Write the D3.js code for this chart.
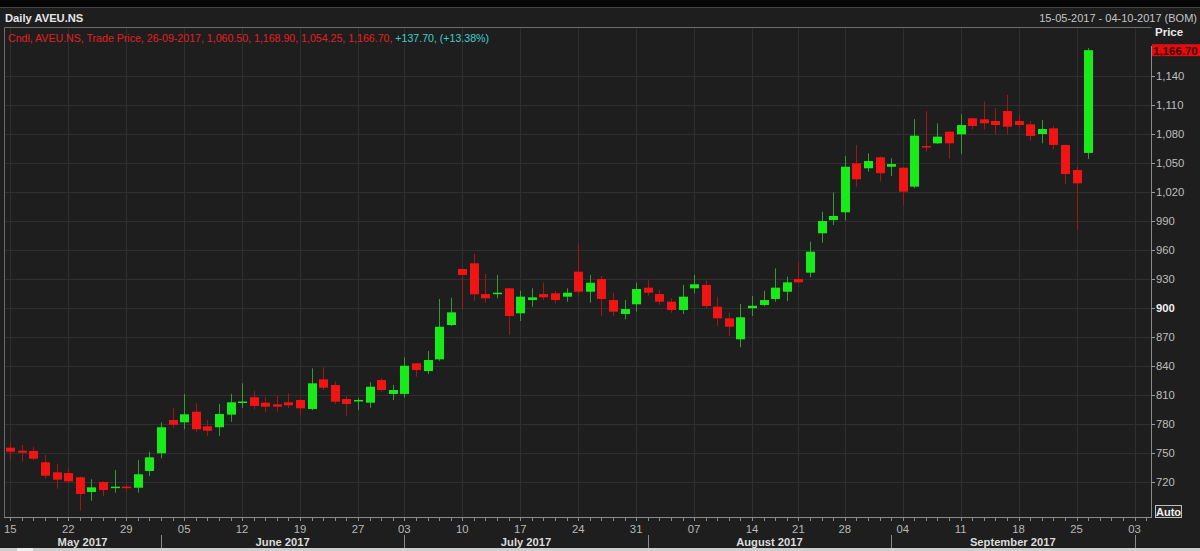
<!DOCTYPE html>
<html>
<head>
<meta charset="utf-8">
<script src="https://cdn.jsdelivr.net/npm/d3@7"></script>
<style>
  html, body { margin: 0; padding: 0; background: #1e1e1e; overflow: hidden; }
  svg { display: block; }
  text { font-family: "Liberation Sans", Arial, sans-serif; }
</style>
</head>
<body>
<svg id="chart" width="1200" height="551"></svg>
<script>
// ---- trading calendar (NSE, 15-05-2017 .. 04-10-2017) ----
const dates = [
  "2017-05-15","2017-05-16","2017-05-17","2017-05-18","2017-05-19",
  "2017-05-22","2017-05-23","2017-05-24","2017-05-25","2017-05-26",
  "2017-05-29","2017-05-30","2017-05-31","2017-06-01","2017-06-02",
  "2017-06-05","2017-06-06","2017-06-07","2017-06-08","2017-06-09",
  "2017-06-12","2017-06-13","2017-06-14","2017-06-15","2017-06-16",
  "2017-06-19","2017-06-20","2017-06-21","2017-06-22","2017-06-23",
  "2017-06-27","2017-06-28","2017-06-29","2017-06-30",
  "2017-07-03","2017-07-04","2017-07-05","2017-07-06","2017-07-07",
  "2017-07-10","2017-07-11","2017-07-12","2017-07-13","2017-07-14",
  "2017-07-17","2017-07-18","2017-07-19","2017-07-20","2017-07-21",
  "2017-07-24","2017-07-25","2017-07-26","2017-07-27","2017-07-28",
  "2017-07-31","2017-08-01","2017-08-02","2017-08-03","2017-08-04",
  "2017-08-07","2017-08-08","2017-08-09","2017-08-10","2017-08-11",
  "2017-08-14","2017-08-16","2017-08-17","2017-08-18",
  "2017-08-21","2017-08-22","2017-08-23","2017-08-24",
  "2017-08-28","2017-08-29","2017-08-30","2017-08-31","2017-09-01",
  "2017-09-04","2017-09-05","2017-09-06","2017-09-07","2017-09-08",
  "2017-09-11","2017-09-12","2017-09-13","2017-09-14","2017-09-15",
  "2017-09-18","2017-09-19","2017-09-20","2017-09-21","2017-09-22",
  "2017-09-25","2017-09-26","2017-09-27","2017-09-28","2017-09-29",
  "2017-10-03","2017-10-04"
];

// ---- OHLC series (first 94 trading days) ----
const open = [
  755.8,752.7,752.4,740.7,730.3,729.6,725.2,710.0,720.3,714.4,
  715.5,714.4,731.7,750.0,784.4,782.0,793.0,777.9,776.9,789.9,
  802.3,807.9,802.3,800.6,802.7,805.1,795.8,826.4,820.6,806.1,
  803.7,802.3,825.7,811.3,811.3,843.0,835.0,847.1,882.6,940.5,
  946.4,914.6,914.6,920.5,894.7,908.4,914.6,915.4,911.9,937.7,
  917.0,930.2,908.4,894.0,904.0,921.2,914.6,906.7,898.1,920.5,
  924.0,901.5,889.5,867.8,899.9,903.3,909.5,917.0,930.2,936.7,
  977.4,991.1,999.1,1049.7,1044.6,1056.0,1046.2,1045.2,1025.6,1067.6,
  1070.4,1082.4,1079.7,1096.3,1095.2,1093.5,1103.8,1093.5,1090.0,1080.0,
  1085.9,1068.7,1042.8,1060.5
];
const high = [
  761.3,758.6,756.8,748.2,738.6,734.5,726.0,723.1,721.0,732.7,
  718.0,743.0,751.6,782.0,796.5,811.3,801.7,784.4,800.9,811.3,
  822.4,814.7,807.9,809.2,812.0,806.0,837.8,838.8,824.0,809.5,
  807.4,823.4,827.5,820.6,849.2,843.5,855.7,909.5,910.8,941.0,
  956.0,935.3,934.3,921.0,918.0,920.5,926.7,918.0,920.5,966.3,
  934.3,933.3,916.0,908.4,926.3,929.8,918.8,910.2,924.0,934.3,
  928.4,911.9,895.3,904.3,912.6,918.0,941.2,932.5,948.1,968.7,
  999.7,1019.4,1057.3,1068.6,1060.1,1057.0,1054.9,1046.0,1095.5,1103.7,
  1091.0,1083.0,1100.4,1097.0,1113.4,1106.6,1120.4,1100.4,1093.5,1094.5,
  1088.3,1069.0,1047.0,1168.9
];
const low = [
  743.0,741.3,743.0,724.1,713.4,719.0,690.6,701.0,705.8,709.3,
  710.3,709.3,726.5,744.8,776.4,774.8,772.3,767.9,767.9,782.6,
  796.8,795.5,792.4,793.0,796.5,789.6,794.5,815.4,800.9,788.8,
  794.7,797.1,813.7,805.1,807.4,829.2,831.9,845.5,881.6,898.8,
  907.7,905.7,910.2,872.3,886.7,901.5,908.4,905.0,906.7,911.9,
  905.7,891.9,891.9,888.5,896.4,912.9,903.3,895.3,894.0,915.4,
  899.9,881.6,871.2,859.5,891.9,902.0,906.7,907.4,925.7,931.9,
  967.7,986.0,990.4,1025.6,1041.1,1030.7,1036.7,1006.6,1024.0,1061.7,
  1069.7,1054.6,1059.4,1084.9,1084.9,1079.7,1079.7,1087.0,1073.1,1070.4,
  1064.2,1028.4,980.8,1054.25
];
const close = [
  751.6,750.6,744.4,726.8,722.7,721.0,707.9,714.8,712.0,715.5,
  714.8,728.3,745.8,776.9,779.5,790.3,774.8,773.3,790.6,802.7,
  803.5,798.9,798.2,798.2,799.6,796.5,822.3,817.8,803.3,800.9,
  805.1,818.8,815.4,815.4,840.5,836.1,846.4,880.8,895.7,934.3,
  914.3,910.2,916.0,891.9,911.9,911.2,911.2,908.4,916.0,917.0,
  926.3,909.5,896.4,899.1,919.8,916.0,906.7,898.1,911.9,924.7,
  902.2,889.5,880.8,890.6,902.5,908.4,921.2,926.7,926.7,958.4,
  990.1,995.3,1046.2,1033.2,1052.1,1039.5,1049.0,1020.4,1078.3,1066.3,
  1077.3,1070.4,1089.3,1088.3,1091.1,1089.3,1087.6,1089.3,1078.0,1085.2,
  1068.7,1038.7,1029.0,1166.7
];

// ---- axis labels ----
const priceTicks = [720,750,780,810,840,870,900,930,960,990,1020,1050,1080,1110,1140];
const dayTickDates = ["2017-05-15","2017-05-22","2017-05-29","2017-06-05","2017-06-12",
  "2017-06-19","2017-06-27","2017-07-03","2017-07-10","2017-07-17","2017-07-24",
  "2017-07-31","2017-08-07","2017-08-14","2017-08-21","2017-08-28","2017-09-04",
  "2017-09-11","2017-09-18","2017-09-25","2017-10-03"];
const dayTickLabels = ["15","22","29","05","12","19","27","03","10","17","24",
  "31","07","14","21","28","04","11","18","25","03"];
const monthStarts = ["2017-06-01","2017-07-03","2017-08-01","2017-09-01","2017-10-03"];
const monthLabels = ["May 2017","June 2017","July 2017","August 2017","September 2017"];

const titleText = "Daily AVEU.NS";
const rangeText = "15-05-2017 - 04-10-2017 (BOM)";
const legendMain = "Cndl, AVEU.NS, Trade Price, 26-09-2017, 1,060.50, 1,168.90, 1,054.25, 1,166.70, ";
const legendChange = "+137.70, (+13.38%)";
const lastPrice = 1166.70;

// ---- layout ----
const svg = d3.select("#chart");
const W = 1200, H = 551;
const plot = { left: 4, right: 1151, top: 27, bottom: 517 };

const x = d3.scalePoint().domain(dates).range([10.3, 1146.1]);
const y = d3.scaleLinear().domain([720, 1140]).range([482.3, 76]);

const GREEN = "#19ea19", RED = "#f01414";
const GREEN_W = "#2f9e2f", RED_W = "#a31616";

svg.append("rect").attr("width", W).attr("height", H).attr("fill", "#1e1e1e");
// top toolbar strip
svg.append("rect").attr("x", 0).attr("y", 0).attr("width", W).attr("height", 7).attr("fill", "#060606");
svg.append("line").attr("x1", 0).attr("x2", W).attr("y1", 7.5).attr("y2", 7.5).attr("stroke", "#444");

// header
svg.append("text").attr("x", 5).attr("y", 22).attr("font-size", 11.2).attr("font-weight", "bold")
  .attr("fill", "#e6e6e6").text(titleText);
svg.append("text").attr("x", 1197).attr("y", 22).attr("font-size", 11).attr("text-anchor", "end")
  .attr("fill", "#c4c4c4").text(rangeText);

// grid
const grid = svg.append("g");
grid.selectAll("line.h").data(priceTicks).join("line")
  .attr("x1", plot.left).attr("x2", plot.right)
  .attr("y1", d => Math.round(y(d)) + 0.5).attr("y2", d => Math.round(y(d)) + 0.5)
  .attr("stroke", "#2f2f2f").attr("stroke-width", 1);
grid.selectAll("line.v").data(dayTickDates).join("line")
  .attr("x1", d => Math.round(x(d)) + 0.5).attr("x2", d => Math.round(x(d)) + 0.5)
  .attr("y1", plot.top).attr("y2", plot.bottom)
  .attr("stroke", "#2f2f2f").attr("stroke-width", 1);

// plot frame
svg.append("path")
  .attr("d", `M${plot.left + 0.5},${plot.bottom + 0.5} V${plot.top + 0.5} H${plot.right + 0.5}`)
  .attr("fill", "none").attr("stroke", "#6a6a6a");
svg.append("line").attr("x1", plot.left).attr("x2", plot.right + 1)
  .attr("y1", plot.bottom + 0.5).attr("y2", plot.bottom + 0.5).attr("stroke", "#8a8a8a");
svg.append("line").attr("x1", plot.right + 0.5).attr("x2", plot.right + 0.5)
  .attr("y1", 46).attr("y2", plot.bottom + 1).attr("stroke", "#8a8a8a");

// legend
const leg = svg.append("text").attr("x", 8).attr("y", 42).attr("font-size", 10.6);
leg.append("tspan").attr("fill", "#e41e1e").text(legendMain);
leg.append("tspan").attr("fill", "#3ccfcf").text(legendChange);

// candles
const candles = close.map((c, i) => ({ d: dates[i], o: open[i], h: high[i], l: low[i], c }));
const g = svg.append("g");
g.selectAll("line.wick").data(candles).join("line")
  .attr("x1", d => Math.round(x(d.d)) + 0.5).attr("x2", d => Math.round(x(d.d)) + 0.5)
  .attr("y1", d => y(d.h)).attr("y2", d => y(d.l))
  .attr("stroke", d => d.c >= d.o ? GREEN_W : RED_W).attr("stroke-width", 1);
g.selectAll("rect.body").data(candles).join("rect")
  .attr("x", d => Math.round(x(d.d)) - 4)
  .attr("width", 9)
  .attr("y", d => y(Math.max(d.o, d.c)))
  .attr("height", d => Math.max(1.5, Math.abs(y(d.o) - y(d.c))))
  .attr("fill", d => d.c >= d.o ? GREEN : RED);

// right price axis
const ax = svg.append("g");
ax.selectAll("line").data(priceTicks).join("line")
  .attr("x1", plot.right + 1).attr("x2", plot.right + 4)
  .attr("y1", d => Math.round(y(d)) + 0.5).attr("y2", d => Math.round(y(d)) + 0.5)
  .attr("stroke", "#9a9a9a");
ax.selectAll("text").data(priceTicks).join("text")
  .attr("x", plot.right + 5).attr("y", d => y(d) + 4)
  .attr("font-size", 11.3)
  .attr("font-weight", d => d === 900 ? "bold" : "normal")
  .attr("fill", d => d === 900 ? "#f0f0f0" : "#bdbdbd")
  .text(d => d3.format(",")(d));
svg.append("text").attr("x", 1155).attr("y", 36).attr("font-size", 11.5).attr("font-weight", "bold")
  .attr("fill", "#e8e8e8").text("Price");
// last price tag
const ly = y(lastPrice);
svg.append("rect").attr("x", plot.right + 1).attr("y", ly - 6).attr("width", W - plot.right - 1).attr("height", 12)
  .attr("fill", "#e30d0d");
svg.append("text").attr("x", plot.right + 2).attr("y", ly + 4.5).attr("font-size", 11.5).attr("font-weight", "bold")
  .attr("fill", "#3a0000").text(d3.format(",.2f")(lastPrice));
// Auto box
svg.append("rect").attr("x", 1155.5).attr("y", 505.5).attr("width", 26).attr("height", 12)
  .attr("fill", "#262626").attr("stroke", "#bdbdbd");
svg.append("text").attr("x", 1168.5).attr("y", 515.5).attr("font-size", 11).attr("font-weight", "bold")
  .attr("text-anchor", "middle").attr("fill", "#f0f0f0").text("Auto");

// bottom date axis
const bx = svg.append("g");
bx.selectAll("line.tick").data(dates).join("line")
  .attr("x1", d => Math.round(x(d)) + 0.5).attr("x2", d => Math.round(x(d)) + 0.5)
  .attr("y1", plot.bottom + 1).attr("y2", plot.bottom + 4)
  .attr("stroke", "#8a8a8a");
bx.selectAll("text.day").data(dayTickDates).join("text")
  .attr("x", d => x(d)).attr("y", 533)
  .attr("font-size", 11.3).attr("text-anchor", "middle").attr("fill", "#b8b8b8")
  .text((d, i) => dayTickLabels[i]);
bx.selectAll("line.sep").data(monthStarts).join("line")
  .attr("x1", d => Math.round(x(d)) + 0.5).attr("x2", d => Math.round(x(d)) + 0.5)
  .attr("y1", 535).attr("y2", 548)
  .attr("stroke", "#8a8a8a");
const bounds = [plot.left].concat(monthStarts.map(d => x(d)));
bx.selectAll("text.month").data(monthLabels).join("text")
  .attr("x", (d, i) => (bounds[i] + bounds[i + 1]) / 2).attr("y", 546)
  .attr("font-size", 11.2).attr("font-weight", "bold").attr("text-anchor", "middle").attr("fill", "#dcdcdc")
  .text(d => d);

// scrollbar strip
svg.append("rect").attr("x", 0).attr("y", 548).attr("width", W).attr("height", 3).attr("fill", "#cfcfcf");
svg.append("rect").attr("x", 17).attr("y", 548).attr("width", 16).attr("height", 3).attr("fill", "#efefef");
</script>
</body>
</html>
